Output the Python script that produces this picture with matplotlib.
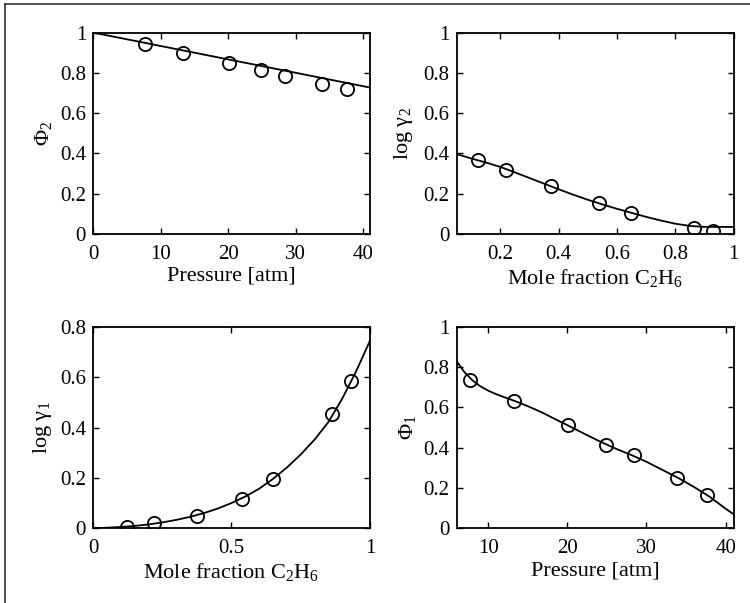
import matplotlib
matplotlib.use("Agg")
import matplotlib.pyplot as plt
from matplotlib.lines import Line2D

plt.rcParams['font.family'] = ['Liberation Serif', 'DejaVu Serif']
plt.rcParams['mathtext.fontset'] = 'custom'
plt.rcParams['mathtext.rm'] = 'Liberation Serif'
plt.rcParams['mathtext.it'] = 'Liberation Serif:italic'

# measured data (same pressures / mole fractions in both pairs of panels)
pressure = [7.7, 13.3, 20.1, 24.9, 28.4, 33.9, 37.6]
phi2 = [0.945, 0.899, 0.849, 0.812, 0.786, 0.745, 0.72]
phi1 = [0.737, 0.633, 0.513, 0.411, 0.362, 0.247, 0.164]
x_c2h6 = [0.122, 0.22, 0.375, 0.537, 0.649, 0.864, 0.931]
log_g2 = [0.365, 0.319, 0.239, 0.153, 0.106, 0.028, 0.016]
log_g1 = [0.006, 0.02, 0.05, 0.118, 0.197, 0.453, 0.584]

# fitted curves
fit_p2 = [0, 41]
fit_phi2 = [1.0, 0.727]

fit_x2 = [0.05, 0.1, 0.15, 0.2, 0.25, 0.3, 0.35, 0.4, 0.45, 0.5, 0.55, 0.6,
          0.65, 0.7, 0.75, 0.8, 0.85, 0.9, 0.95, 1.0]
fit_g2 = [0.397, 0.375, 0.355, 0.333, 0.306, 0.278, 0.25, 0.222, 0.195, 0.17,
          0.147, 0.125, 0.105, 0.085, 0.067, 0.051, 0.04, 0.035, 0.035, 0.035]

fit_x1 = [0, 0.05, 0.1, 0.15, 0.2, 0.25, 0.3, 0.35, 0.4, 0.45, 0.5, 0.55, 0.6,
          0.65, 0.7, 0.75, 0.8, 0.85, 0.9, 0.95, 1.0]
fit_g1 = [0, 0.002, 0.005, 0.009, 0.015, 0.023, 0.033, 0.045, 0.06, 0.078, 0.1,
          0.126, 0.157, 0.196, 0.241, 0.293, 0.352, 0.422, 0.515, 0.623, 0.745]

fit_p1 = [6, 7, 8, 9, 10, 11, 12, 13, 14, 15, 16, 17, 18, 19, 20, 22, 24, 26,
          28, 30, 32, 34, 36, 38, 40, 41]
fit_phi1 = [0.83, 0.775, 0.735, 0.705, 0.683, 0.666, 0.651, 0.637, 0.622, 0.606,
            0.589, 0.571, 0.551, 0.531, 0.512, 0.472, 0.433, 0.397, 0.365, 0.33,
            0.29, 0.25, 0.205, 0.156, 0.097, 0.07]

tick_fs = 15
label_fs = 16


def style(ax, xlim, ylim, xticks, xlabels, yticks, ylabels):
    ax.set_xlim(*xlim)
    ax.set_ylim(*ylim)
    ax.set_xticks(xticks)
    ax.set_xticklabels(xlabels)
    ax.set_yticks(yticks)
    ax.set_yticklabels(ylabels)
    ax.tick_params(direction='in', top=True, right=True, length=4, width=1,
                   labelsize=tick_fs)
    ax.tick_params(axis='x', pad=8)
    ax.tick_params(axis='y', pad=5)
    for s in ax.spines.values():
        s.set_linewidth(1.3)


def draw(ax, fx, fy, px, py):
    ax.plot(fx, fy, color='black', lw=1.3)
    ax.plot(px, py, 'o', mfc='none', mec='black', ms=9.5, mew=1.3)


fig = plt.figure(figsize=(7.5, 6.03), dpi=100)
w, h = 0.3693, 0.334
ax1 = fig.add_axes([0.124, 0.612, w, h])
ax2 = fig.add_axes([0.6087, 0.612, w, h])
ax3 = fig.add_axes([0.124, 0.124, w, h])
ax4 = fig.add_axes([0.6087, 0.124, w, h])

yt = [0, 0.2, 0.4, 0.6, 0.8, 1]
yl = ['0', '0.2', '0.4', '0.6', '0.8', '1']

draw(ax1, fit_p2, fit_phi2, pressure, phi2)
style(ax1, (0, 41), (0, 1), [0, 10, 20, 30, 40], ['0', '10', '20', '30', '40'], yt, yl)
ax1.set_xlabel('Pressure [atm]', fontsize=label_fs, labelpad=2)
ax1.set_ylabel(r'$\mathregular{\Phi_2}$', fontsize=label_fs)

draw(ax2, fit_x2, fit_g2, x_c2h6, log_g2)
style(ax2, (0.05, 1), (0, 1), [0.2, 0.4, 0.6, 0.8, 1], ['0.2', '0.4', '0.6', '0.8', '1'], yt, yl)
ax2.set_xlabel(r'Mole fraction C$\mathregular{_2}$H$\mathregular{_6}$', fontsize=label_fs, labelpad=2)
ax2.set_ylabel(r'log $\mathregular{\gamma_2}$', fontsize=label_fs, labelpad=6)

draw(ax3, fit_x1, fit_g1, x_c2h6, log_g1)
style(ax3, (0, 1), (0, 0.8), [0, 0.5, 1], ['0', '0.5', '1'],
      [0, 0.2, 0.4, 0.6, 0.8], ['0', '0.2', '0.4', '0.6', '0.8'])
ax3.set_xlabel(r'Mole fraction C$\mathregular{_2}$H$\mathregular{_6}$', fontsize=label_fs, labelpad=2)
ax3.set_ylabel(r'log $\mathregular{\gamma_1}$', fontsize=label_fs)

draw(ax4, fit_p1, fit_phi1, pressure, phi1)
style(ax4, (6, 41), (0, 1), [10, 20, 30, 40], ['10', '20', '30', '40'], yt, yl)
ax4.set_xlabel('Pressure [atm]', fontsize=label_fs, labelpad=2)
ax4.set_ylabel(r'$\mathregular{\Phi_1}$', fontsize=label_fs)

# frame edges on the left and top of the image
fig.add_artist(Line2D([0.007, 0.007], [0, 0.994], transform=fig.transFigure,
                      color='#333333', lw=1.2))
fig.add_artist(Line2D([0.007, 1], [0.994, 0.994], transform=fig.transFigure,
                      color='#333333', lw=1.2))

fig.savefig('out.png', dpi=100)
